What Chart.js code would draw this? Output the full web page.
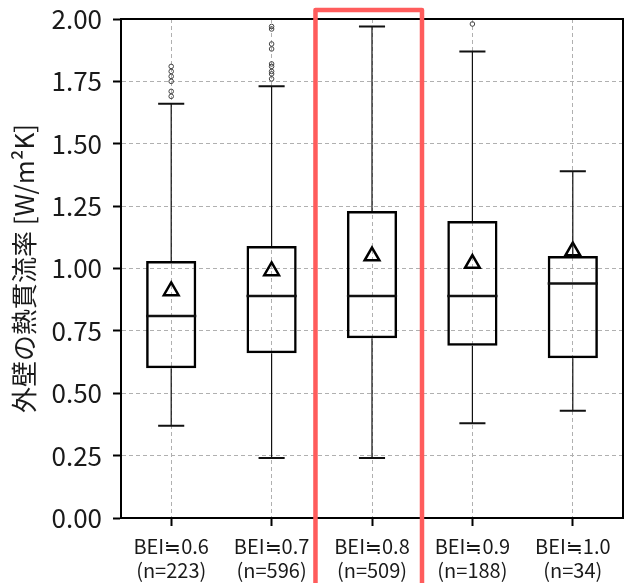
<!DOCTYPE html>
<html>
<head>
<meta charset="utf-8">
<script src="https://cdn.jsdelivr.net/npm/chart.js"></script>
<style>
  body { margin: 0; background: #fff; }
</style>
</head>
<body>
<canvas id="myChart" width="626" height="583"></canvas>
<script>
// categories and sample sizes
var labels = ['BEI≒0.6', 'BEI≒0.7', 'BEI≒0.8', 'BEI≒0.9', 'BEI≒1.0'];
var counts = [223, 596, 509, 188, 34];

// box plot statistics [W/m2K]
var whiskerLow  = [0.37, 0.24, 0.24, 0.38, 0.43];
var q1          = [0.60, 0.66, 0.72, 0.69, 0.64];
var median      = [0.81, 0.89, 0.89, 0.89, 0.94];
var q3          = [1.03, 1.09, 1.23, 1.19, 1.05];
var whiskerHigh = [1.66, 1.73, 1.97, 1.87, 1.39];
var means       = [0.91, 0.99, 1.05, 1.02, 1.07];
var outliers = [
    [1.69, 1.71, 1.75, 1.77, 1.79, 1.81],
    [1.76, 1.78, 1.79, 1.81, 1.82, 1.88, 1.90, 1.96, 1.97],
    [],
    [1.98],
    []
];

var yTicks = [0, 0.25, 0.5, 0.75, 1.0, 1.25, 1.5, 1.75, 2.0];
var highlightIndex = 2;

var FONT = "'Noto Sans CJK JP', 'Noto Sans', sans-serif";

var outlierPoints = [];
outliers.forEach(function (list, i) {
    list.forEach(function (v) { outlierPoints.push({ x: labels[i], y: v }); });
});

// whiskers, caps and medians drawn from the scales
var boxLines = {
    id: 'boxLines',
    afterDatasetsDraw: function (chart) {
        var ctx = chart.ctx;
        var xs = chart.scales.x, ys = chart.scales.y;
        var cat = xs.getPixelForValue(1) - xs.getPixelForValue(0);
        ctx.save();
        ctx.strokeStyle = '#111';
        for (var i = 0; i < labels.length; i++) {
            var cx = xs.getPixelForValue(i);
            ctx.lineWidth = 1.2;
            ctx.beginPath();
            ctx.moveTo(cx, ys.getPixelForValue(q3[i]));
            ctx.lineTo(cx, ys.getPixelForValue(whiskerHigh[i]));
            ctx.moveTo(cx, ys.getPixelForValue(q1[i]));
            ctx.lineTo(cx, ys.getPixelForValue(whiskerLow[i]));
            ctx.stroke();
            ctx.lineWidth = 2;
            ctx.beginPath();
            ctx.moveTo(cx - cat * 0.13, ys.getPixelForValue(whiskerHigh[i]));
            ctx.lineTo(cx + cat * 0.13, ys.getPixelForValue(whiskerHigh[i]));
            ctx.moveTo(cx - cat * 0.13, ys.getPixelForValue(whiskerLow[i]));
            ctx.lineTo(cx + cat * 0.13, ys.getPixelForValue(whiskerLow[i]));
            ctx.stroke();
            ctx.lineWidth = 2.5;
            ctx.beginPath();
            ctx.moveTo(cx - cat * 0.25, ys.getPixelForValue(median[i]));
            ctx.lineTo(cx + cat * 0.25, ys.getPixelForValue(median[i]));
            ctx.stroke();
        }
        // frame
        var a = chart.chartArea;
        ctx.lineWidth = 2;
        ctx.strokeStyle = '#000';
        ctx.strokeRect(a.left, a.top, a.right - a.left, a.bottom - a.top);
        ctx.restore();
    },
    afterDraw: function (chart) {
        var ctx = chart.ctx;
        var xs = chart.scales.x;
        var cat = xs.getPixelForValue(1) - xs.getPixelForValue(0);
        var left = xs.getPixelForValue(highlightIndex) - cat * 0.563;
        var right = xs.getPixelForValue(highlightIndex) + cat * 0.498;
        var top = chart.chartArea.top - 9;
        ctx.save();
        ctx.strokeStyle = '#ff5c5c';
        ctx.lineWidth = 4.5;
        ctx.lineJoin = 'round';
        ctx.strokeRect(left, top, right - left, chart.height + 20 - top);
        ctx.restore();
    }
};

var ctx = document.getElementById('myChart');

var config = {
    type: 'bar',
    data: {
        labels: labels,
        datasets: [
            {
                type: 'line',
                data: means,
                showLine: false,
                pointStyle: 'triangle',
                pointRadius: 8.5,
                pointBorderWidth: 2.5,
                pointBorderColor: '#000',
                pointBackgroundColor: 'rgba(255,255,255,0)',
                order: 0
            },
            {
                type: 'line',
                data: outlierPoints,
                showLine: false,
                pointStyle: 'circle',
                pointRadius: 2.3,
                pointBorderWidth: 1,
                pointBorderColor: '#444',
                pointBackgroundColor: 'rgba(255,255,255,0)',
                order: 1
            },
            {
                type: 'bar',
                data: q1.map(function (v, i) { return [v, q3[i]]; }),
                backgroundColor: 'rgba(255,255,255,0)',
                borderColor: '#000',
                borderWidth: 2.5,
                borderSkipped: false,
                barPercentage: 0.5,
                categoryPercentage: 1.0,
                order: 2
            }
        ]
    },
    options: {
        responsive: false,
        animation: false,
        layout: { autoPadding: false, padding: { left: 0, top: 19, right: 3, bottom: 0 } },
        plugins: {
            legend: { display: false },
            tooltip: { enabled: false }
        },
        scales: {
            x: {
                offset: true,
                afterFit: function (scale) {
                    scale.height = 65;
                    scale.paddingLeft = 0;
                    scale.paddingRight = 0;
                },
                grid: {
                    offset: false,
                    color: '#b0b0b0',
                    lineWidth: 1,
                    tickColor: '#000',
                    tickWidth: 2,
                    tickLength: 8
                },
                border: { display: true, color: '#000', width: 2, dash: [4, 3] },
                ticks: {
                    color: '#1a1a1a',
                    padding: 8,
                    maxRotation: 0,
                    autoSkip: false,
                    font: { family: FONT, size: 20, lineHeight: 1.2 },
                    callback: function (value, index) {
                        return [labels[index], '(n=' + counts[index] + ')'];
                    }
                }
            },
            y: {
                min: 0,
                max: 2,
                afterFit: function (scale) {
                    scale.width = 121;
                    scale.paddingTop = 0;
                    scale.paddingBottom = 0;
                },
                afterBuildTicks: function (scale) {
                    scale.ticks = yTicks.map(function (v) { return { value: v }; });
                },
                grid: {
                    color: '#b0b0b0',
                    lineWidth: 1,
                    tickColor: '#000',
                    tickWidth: 2,
                    tickLength: 8
                },
                border: { display: true, color: '#000', width: 2, dash: [4, 3] },
                ticks: {
                    color: '#1a1a1a',
                    padding: 11,
                    font: { family: FONT, size: 26 },
                    callback: function (value) { return Number(value).toFixed(2); }
                },
                title: {
                    display: true,
                    text: '外壁の熱貫流率 [W/m²K]',
                    color: '#1a1a1a',
                    font: { family: FONT, size: 26, lineHeight: 1.2 },
                    padding: { top: 9, bottom: 0 }
                }
            }
        }
    },
    plugins: [boxLines]
};

var myChart = new Chart(ctx, config);
</script>
</body>
</html>
